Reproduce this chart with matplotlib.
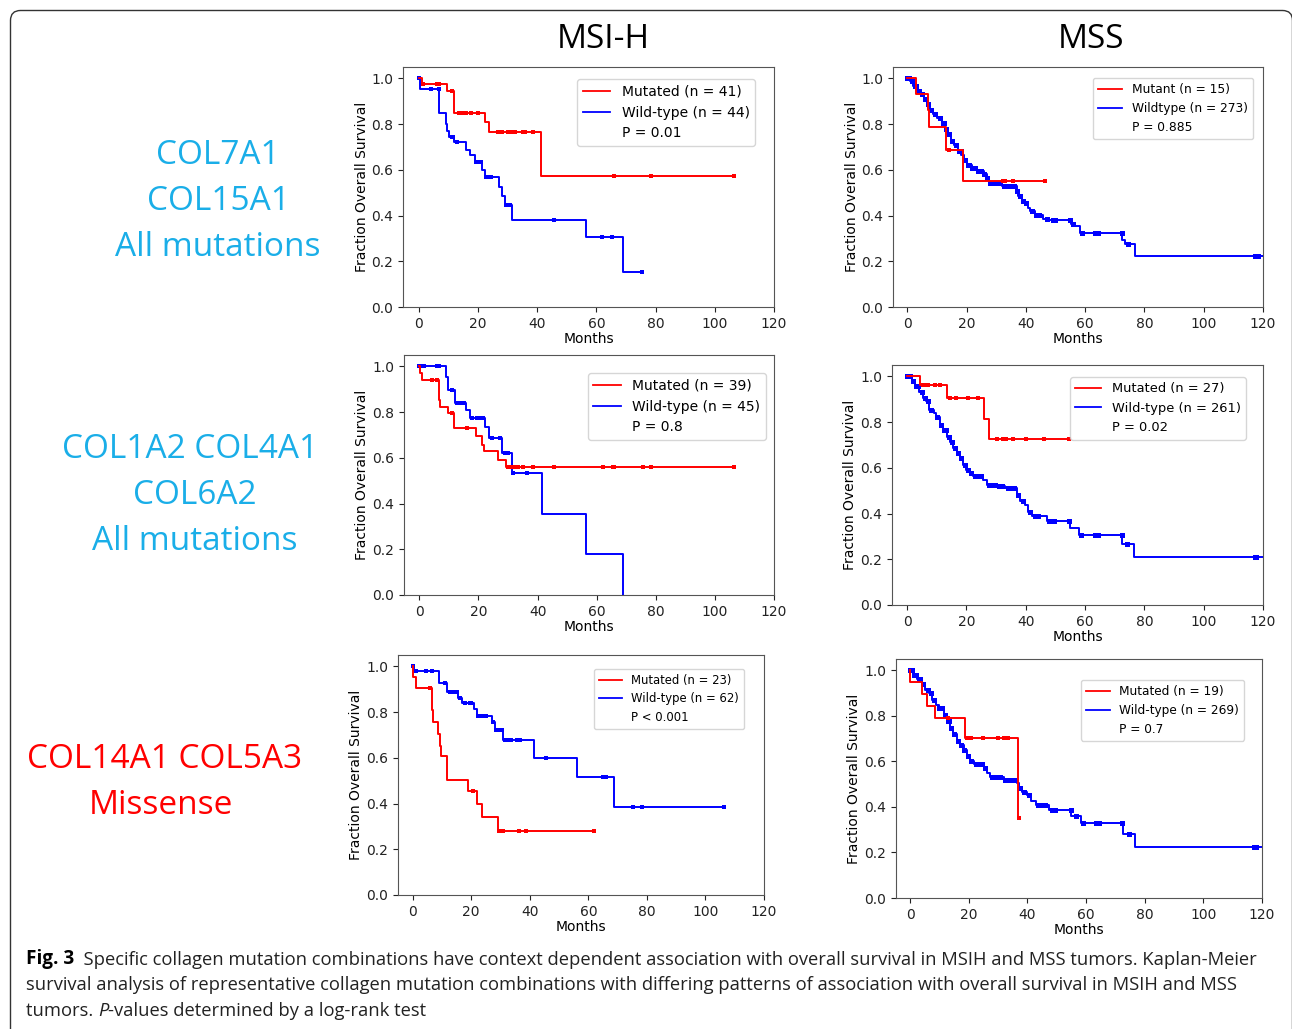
import matplotlib
matplotlib.use("Agg")
import matplotlib.pyplot as plt
import numpy as np
from matplotlib.lines import Line2D
from matplotlib.patches import FancyBboxPatch

# Kaplan-Meier curves: event times (months), survival after each event, censor times

# --- row 1, MSI-H ---
mut1_t = [1.0, 9.6, 11.8, 22.3, 23.6, 41.4]
mut1_s = [0.975, 0.947, 0.85, 0.81, 0.765, 0.572]
mut1_c = [1.2, 6.0, 6.7, 11.0, 13.4, 14.2, 15.0, 16.0, 17.7, 20.0, 26.7, 28.0, 30.0,
          31.3, 32.5, 35.0, 36.0, 38.6, 66.0, 78.4, 106.6]
wt1_t = [0.3, 6.8, 9.0, 9.5, 10.0, 12.0, 15.8, 17.4, 18.8, 21.4, 22.2, 27.0, 28.0, 29.0,
         31.3, 56.3, 68.9]
wt1_s = [0.953, 0.85, 0.80, 0.77, 0.745, 0.721, 0.689, 0.663, 0.636, 0.601, 0.569, 0.526,
         0.485, 0.445, 0.380, 0.305, 0.153]
wt1_c = [0.0, 4.2, 6.7, 11.0, 11.5, 12.9, 19.4, 20.0, 21.0, 22.8, 23.5, 24.5, 29.3, 30.0,
         30.9, 45.7, 62.0, 65.4, 75.4]

# --- row 1, MSS ---
mut2_t = [2.8, 6.9, 7.3, 13.1, 18.7]
mut2_s = [0.93, 0.862, 0.788, 0.689, 0.553]
mut2_c = [14.2, 32.3, 33.0, 35.7, 46.5]
wt2_t = [0.9, 2.0, 3.4, 4.5, 5.6, 6.75, 7.66, 8.8, 9.9, 11.6, 12.7, 13.5, 14.6, 15.8, 17.2,
         18.3, 19.1, 20.0, 21.7, 23.4, 25.9, 26.8, 27.7, 31.9, 36.9, 37.5, 38.6, 39.8, 40.9,
         41.4, 43.1, 45.9, 47.6, 55.2, 56.6, 58.3, 72.6, 73.5, 76.9]
wt2_s = [0.988, 0.966, 0.945, 0.930, 0.908, 0.886, 0.864, 0.845, 0.828, 0.803, 0.777, 0.755,
         0.726, 0.707, 0.682, 0.663, 0.645, 0.623, 0.609, 0.597, 0.580, 0.565, 0.543, 0.531,
         0.507, 0.485, 0.463, 0.455, 0.434, 0.419, 0.404, 0.385, 0.380, 0.364, 0.353, 0.324,
         0.295, 0.276, 0.222]
wt2_c = [0.0, 0.5, 1.5, 2.5, 3.0, 4.0, 5.0, 6.0, 7.0, 8.0, 9.5, 11.0, 12.0, 12.5, 13.0, 14.0,
         15.0, 16.5, 17.5, 18.0, 19.5, 20.5, 21.0, 22.0, 23.0, 24.0, 25.0, 26.0, 27.0, 28.0,
         28.5, 29.0, 30.0, 31.0, 32.5, 33.5, 34.0, 35.0, 36.0, 37.0, 38.0, 39.0, 40.0, 42.0,
         43.5, 44.5, 47.0, 49.0, 50.0, 55.0, 56.0, 59.0, 63.5, 64.5, 72.3, 74.5, 117.2, 117.8,
         118.4]

# --- row 2, MSI-H ---
mut3_t = [0.3, 0.8, 6.7, 7.0, 9.8, 11.8, 19.1, 21.3, 21.9, 26.7, 29.2]
mut3_s = [0.971, 0.942, 0.854, 0.822, 0.796, 0.730, 0.696, 0.657, 0.628, 0.591, 0.558]
mut3_c = [4.2, 6.1, 11.2, 16.2, 30.1, 31.0, 32.4, 33.5, 35.2, 38.6, 45.7, 62.0, 65.6, 66.0,
          75.6, 78.4, 106.6]
wt3_t = [9.0, 9.6, 12.1, 15.8, 17.1, 22.2, 23.7, 28.1, 31.5, 41.4, 56.3, 68.9]
wt3_s = [0.955, 0.898, 0.842, 0.81, 0.774, 0.733, 0.686, 0.623, 0.533, 0.355, 0.178, 0.0]
wt3_c = [0.0, 0.8, 1.4, 6.1, 6.8, 11.2, 12.6, 13.5, 14.5, 15.1, 17.7, 19.5, 20.5, 21.0, 21.7,
         24.5, 27.3, 29.0, 30.0, 31.6, 36.5]

# --- row 2, MSS ---
mut4_t = [4.3, 13.6, 26.0, 27.7]
mut4_s = [0.964, 0.905, 0.813, 0.726]
mut4_c = [5.5, 6.0, 7.1, 9.3, 11.0, 14.4, 16.6, 20.6, 24.0, 30.2, 32.4, 33.3, 35.6, 40.0,
          46.3, 54.7]
wt4_t = [1.5, 2.6, 4.1, 5.4, 6.5, 7.4, 9.0, 9.7, 11.0, 12.2, 13.3, 14.4, 15.5, 16.7, 17.8,
         19.0, 20.0, 21.2, 22.3, 25.7, 26.8, 30.2, 33.0, 36.9, 38.0, 39.7, 40.9, 42.0, 47.1,
         54.9, 58.1, 72.6, 76.6]
wt4_s = [0.978, 0.959, 0.934, 0.905, 0.891, 0.854, 0.839, 0.822, 0.788, 0.766, 0.737, 0.711,
         0.686, 0.664, 0.642, 0.613, 0.591, 0.577, 0.565, 0.547, 0.526, 0.521, 0.511, 0.482,
         0.453, 0.438, 0.409, 0.388, 0.366, 0.337, 0.308, 0.267, 0.209]
wt4_c = [0.0, 0.5, 1.0, 2.0, 3.0, 3.5, 5.0, 6.0, 7.0, 8.0, 10.0, 11.5, 12.5, 13.0, 14.0, 15.0,
         16.0, 17.0, 18.0, 19.5, 20.5, 21.5, 23.0, 24.0, 25.0, 27.5, 28.5, 29.5, 31.0, 32.0,
         34.0, 35.0, 36.0, 37.5, 39.0, 41.5, 43.0, 44.0, 48.0, 49.5, 54.5, 58.5, 63.5, 64.5,
         72.3, 74.2, 117.2, 117.8]

# --- row 3, MSI-H ---
mut5_t = [0.2, 1.1, 6.5, 7.0, 8.5, 9.3, 9.7, 11.8, 19.0, 22.1, 23.8, 29.3]
mut5_s = [0.952, 0.905, 0.81, 0.755, 0.705, 0.653, 0.606, 0.504, 0.453, 0.397, 0.340, 0.282]
mut5_c = [5.9, 20.5, 29.6, 30.7, 36.3, 38.6, 61.9]
wt5_t = [0.5, 9.0, 11.8, 15.6, 17.0, 21.0, 21.9, 27.0, 28.1, 31.0, 41.4, 56.2, 68.9]
wt5_s = [0.982, 0.927, 0.886, 0.861, 0.842, 0.813, 0.784, 0.755, 0.72, 0.676, 0.601, 0.515,
         0.387]
wt5_c = [0.0, 1.1, 4.6, 6.5, 11.0, 12.8, 13.5, 14.3, 15.0, 16.3, 18.0, 19.5, 20.0, 22.4, 23.0,
         23.8, 24.9, 27.3, 28.6, 29.5, 30.5, 31.5, 32.5, 33.5, 35.5, 36.7, 45.5, 65.1, 66.0,
         75.4, 78.2, 106.5]

# --- row 3, MSS ---
mut6_t = [0.0, 4.0, 5.7, 8.6, 18.8, 36.7]
mut6_s = [0.947, 0.896, 0.842, 0.791, 0.703, 0.351]
mut6_c = [13.1, 19.4, 20.8, 24.8, 30.0, 32.1, 33.3, 37.1]
wt6_t = [1.1, 2.5, 4.0, 5.1, 6.3, 7.4, 8.9, 9.7, 11.4, 12.5, 13.5, 14.6, 16.0, 17.1, 18.3,
         19.4, 20.5, 21.7, 25.3, 26.2, 27.4, 31.9, 36.5, 37.1, 38.2, 39.9, 41.1, 42.8, 47.3,
         55.0, 58.2, 72.6, 76.7]
wt6_s = [0.981, 0.963, 0.94, 0.915, 0.9, 0.871, 0.849, 0.835, 0.805, 0.776, 0.747, 0.72, 0.691,
         0.671, 0.652, 0.622, 0.603, 0.589, 0.571, 0.549, 0.530, 0.520, 0.505, 0.483, 0.466,
         0.454, 0.425, 0.410, 0.388, 0.359, 0.329, 0.283, 0.224]
wt6_c = [0.0, 0.5, 1.5, 2.0, 3.0, 3.5, 4.5, 6.0, 7.0, 8.0, 10.0, 11.0, 12.0, 12.8, 13.2, 14.0,
         15.0, 16.5, 17.5, 18.5, 19.8, 20.8, 22.5, 23.5, 24.5, 25.5, 27.8, 28.5, 29.5, 30.5,
         32.5, 33.5, 34.5, 35.5, 37.5, 39.0, 40.5, 43.5, 44.5, 46.0, 48.5, 49.5, 54.8, 56.5,
         59.0, 63.5, 64.5, 72.3, 74.5, 117.2, 117.8]

legend_text = [
    ["Mutated (n = 41)", "Wild-type (n = 44)", "P = 0.01"],
    ["Mutant (n = 15)", "Wildtype (n = 273)", "P = 0.885"],
    ["Mutated (n = 39)", "Wild-type (n = 45)", "P = 0.8"],
    ["Mutated (n = 27)", "Wild-type (n = 261)", "P = 0.02"],
    ["Mutated (n = 23)", "Wild-type (n = 62)", "P < 0.001"],
    ["Mutated (n = 19)", "Wild-type (n = 269)", "P = 0.7"],
]
row_labels = [
    ["COL7A1", "COL15A1", "All mutations"],
    ["COL1A2 COL4A1", "COL6A2", "All mutations"],
    ["COL14A1 COL5A3", "Missense"],
]
col_titles = ["MSI-H", "MSS"]

W, H = 1292, 1029
fig = plt.figure(figsize=(W / 100, H / 100), dpi=100)

def px_axes(l, r, t, b):
    return fig.add_axes([l / W, 1 - b / H, (r - l) / W, (b - t) / H])

def km(ax, t, s, cens, end, color, ms=2.8):
    t = np.asarray(t)
    s = np.asarray(s)
    x = np.concatenate([[0.0], t, [end]])
    y = np.concatenate([[1.0], s, [s[-1]]])
    ax.step(x, y, where="post", color=color, lw=1.4)
    c = np.asarray(cens)
    sv = np.concatenate([[1.0], s])[np.searchsorted(t, c, side="right")]
    ax.plot(c, sv, "s", color=color, ms=ms, mew=0)

# panel layout: (pixel box, xlim left, legend anchor, legend fontsize, blue marker size, curves)
panels = [
    ((403, 774, 67, 307), -5.4, (0.949, 0.95), 10, 2.8,
     (mut1_t, mut1_s, mut1_c, 106.6), (wt1_t, wt1_s, wt1_c, 75.4)),
    ((893, 1263, 67, 307), -4.8, (0.973, 0.954), 8.8, 3.6,
     (mut2_t, mut2_s, mut2_c, 46.5), (wt2_t, wt2_s, wt2_c, 120)),
    ((404, 774, 355, 595), -5.2, (0.978, 0.925), 10, 2.8,
     (mut3_t, mut3_s, mut3_c, 106.6), (wt3_t, wt3_s, wt3_c, 68.9)),
    ((892, 1263, 365, 605), -5.1, (0.954, 0.95), 9.4, 3.6,
     (mut4_t, mut4_s, mut4_c, 54.7), (wt4_t, wt4_s, wt4_c, 120)),
    ((398, 764, 655, 895), -5.0, (0.945, 0.942), 8.4, 2.8,
     (mut5_t, mut5_s, mut5_c, 61.9), (wt5_t, wt5_s, wt5_c, 106.5)),
    ((896, 1262, 659, 898), -4.8, (0.951, 0.912), 8.7, 3.6,
     (mut6_t, mut6_s, mut6_c, 37.1), (wt6_t, wt6_s, wt6_c, 120)),
]

for i, (box, xl, anchor, lfs, bms, mut, wt) in enumerate(panels):
    ax = px_axes(*box)
    km(ax, *wt, "blue", ms=bms)
    km(ax, *mut, "red")
    ax.set_xlim(xl, 120)
    ax.set_ylim(0, 1.05)
    ax.set_xticks([0, 20, 40, 60, 80, 100, 120])
    ax.set_yticks([0.0, 0.2, 0.4, 0.6, 0.8, 1.0])
    ax.tick_params(labelsize=10, colors="#222222")
    for sp in ax.spines.values():
        sp.set_color("#555555")
    ax.set_xlabel("Months", fontsize=10, labelpad=1)
    ax.set_ylabel("Fraction Overall Survival", fontsize=10, labelpad=2)
    handles = [Line2D([], [], color="red", lw=1.3), Line2D([], [], color="blue", lw=1.3),
               Line2D([], [], color="none")]
    ax.legend(handles, legend_text[i], loc="upper right", bbox_to_anchor=anchor,
              borderaxespad=0, fontsize=lfs)

# column titles and row labels
fig.text(603 / W, 1 - 40 / H, col_titles[0], fontsize=24, family="Open Sans",
         ha="center", va="center")
fig.text(1091 / W, 1 - 40 / H, col_titles[1], fontsize=24, family="Open Sans",
         ha="center", va="center")

label_pos = [[(218, 155), (218, 202), (218, 248)],
             [(190, 449), (195, 495), (195, 542)],
             [(165, 759), (161, 805)]]
label_col = ["#1AAEE8", "#1AAEE8", "#FF0000"]
for lines, pos, col in zip(row_labels, label_pos, label_col):
    for txt, (x, y) in zip(lines, pos):
        fig.text(x / W, 1 - y / H, txt, fontsize=24, family="Open Sans", color=col,
                 ha="center", va="center")

# caption
bg = fig.add_axes([0, 0, 1, 1], zorder=-1)
bg.axis("off")
cap_fs = 13.2
cap_font = "Open Sans"
t1 = bg.text(26 / W, 1 - 964 / H, "Fig. 3", fontsize=cap_fs + 0.4, family=cap_font,
             weight="bold", va="baseline")
bg.annotate("  Specific collagen mutation combinations have context dependent association with "
            "overall survival in MSIH and MSS tumors. Kaplan-Meier",
            xy=(1, 0), xycoords=t1, va="bottom", fontsize=cap_fs, family=cap_font,
            color="#222222")
bg.text(26 / W, 1 - 990 / H, "survival analysis of representative collagen mutation "
        "combinations with differing patterns of association with overall survival in MSIH and MSS",
        fontsize=cap_fs, family=cap_font, va="baseline", color="#222222")
t3 = bg.text(26 / W, 1 - 1016 / H, "tumors. ", fontsize=cap_fs, family=cap_font,
             va="baseline", color="#222222")
t4 = bg.annotate("P", xy=(1, 0), xycoords=t3, va="bottom", fontsize=cap_fs,
                 family=cap_font, style="italic", color="#222222")
bg.annotate("-values determined by a log-rank test", xy=(1, 0), xycoords=t4, va="bottom",
            fontsize=cap_fs, family=cap_font, color="#222222")

# rounded frame around the figure
frame = FancyBboxPatch((0.105, -0.5), 12.925 - 0.105, 10.185 + 0.5,
                       boxstyle="round,pad=0,rounding_size=0.1",
                       transform=fig.dpi_scale_trans, fill=False, lw=1.0, ec="#333333")
fig.patches.append(frame)

fig.savefig("out.png", dpi=100)
